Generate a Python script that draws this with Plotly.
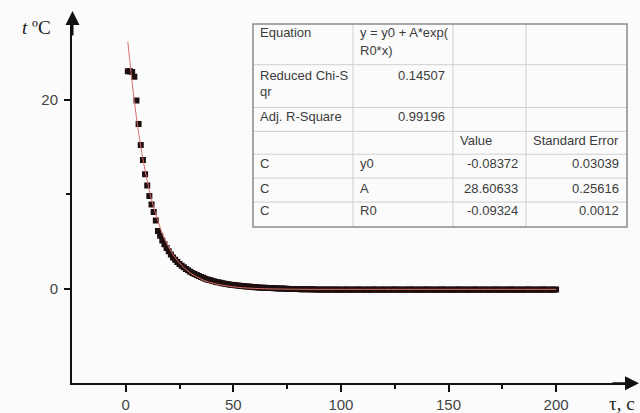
import plotly.graph_objects as go

# ---------------- data ----------------
t_step = 1.0  # sampling interval of the measured points (s)
temp = [
    23.0, 23.0, 22.9, 22.4, 19.9, 17.4, 15.2, 13.6, 12.1, 10.9,
    9.8, 8.9, 8.1, 7.2, 6.1, 5.6, 5.1, 4.7, 4.3, 3.95,
    3.6, 3.3, 3.05, 2.8, 2.6, 2.42, 2.25, 2.08, 1.93, 1.79,
    1.66, 1.54, 1.43, 1.32, 1.23, 1.14, 1.05, 0.97, 0.90, 0.83,
    0.77, 0.71, 0.66, 0.61, 0.56, 0.52, 0.48, 0.44, 0.41, 0.38,
    0.35, 0.32, 0.29, 0.27, 0.25, 0.23, 0.21, 0.19, 0.17, 0.15,
    0.13, 0.12, 0.10, 0.09, 0.08, 0.07, 0.06, 0.05, 0.04, 0.03,
    0.02, 0.01, 0.00, -0.01, -0.02, -0.03, -0.03, -0.04, -0.05, -0.05,
    -0.06, -0.06, -0.07, -0.07, -0.08, -0.09, -0.08, -0.10, -0.09, -0.11,
    -0.10, -0.09, -0.11, -0.10, -0.12, -0.10, -0.09, -0.11, -0.10, -0.12,
    -0.11, -0.10, -0.09, -0.11, -0.12, -0.10, -0.11, -0.09, -0.10, -0.12,
    -0.11, -0.10, -0.12, -0.11, -0.09, -0.10, -0.11, -0.12, -0.10, -0.11,
    -0.10, -0.12, -0.11, -0.10, -0.09, -0.11, -0.10, -0.12, -0.11, -0.10,
    -0.11, -0.09, -0.10, -0.12, -0.11, -0.10, -0.11, -0.12, -0.10, -0.09,
    -0.11, -0.10, -0.12, -0.11, -0.10, -0.11, -0.09, -0.10, -0.12, -0.11,
    -0.10, -0.11, -0.12, -0.10, -0.09, -0.11, -0.10, -0.11, -0.12, -0.10,
    -0.11, -0.10, -0.09, -0.11, -0.12, -0.10, -0.11, -0.10, -0.12, -0.11,
    -0.10, -0.09, -0.11, -0.10, -0.12, -0.11, -0.10, -0.11, -0.09, -0.10,
    -0.12, -0.11, -0.10, -0.11, -0.12, -0.10, -0.09, -0.11, -0.10, -0.11,
    -0.12, -0.10, -0.11, -0.10, -0.09, -0.11, -0.12, -0.10, -0.11, -0.10,
]
time = [t_step * (i + 1) for i in range(len(temp))]

# fitted curve
fit_x = [1, 2, 3, 4, 5, 6, 8, 10, 12, 15, 18, 22, 26, 30, 35, 40, 50, 60, 80, 100, 150, 200]
fit_y = [26.1, 23.9, 21.8, 19.9, 18.1, 16.5, 13.7, 11.4, 9.4, 7.1, 5.3, 3.6,
         2.45, 1.66, 1.01, 0.60, 0.19, 0.02, -0.07, -0.08, -0.08, -0.08]

x_ticks = [0, 50, 100, 150, 200]
x_minor = [25, 75, 125, 175]
y_ticks = [0, 20]
y_minor = [10]

table_rows = [
    [["Equation"], ["y = y0 + A*exp(", "R0*x)"], [""], [""]],
    [["Reduced Chi-S", "qr"], ["0.14507"], [""], [""]],
    [["Adj. R-Square"], ["0.99196"], [""], [""]],
    [[""], [""], ["Value"], ["Standard Error"]],
    [["C"], ["y0"], ["-0.08372"], ["0.03039"]],
    [["C"], ["A"], ["28.60633"], ["0.25616"]],
    [["C"], ["R0"], ["-0.09324"], ["0.0012"]],
]
right_cells = {(1, 1), (2, 1), (4, 2), (5, 2), (6, 2), (4, 3), (5, 3), (6, 3)}

# ---------------- layout geometry (pixels) ----------------
W, H = 640, 413
L, R, T, B = 72, 632, 20, 385


def px(x):
    return x / W


def py(y):
    return 1 - y / H


fig = go.Figure()
fig.add_trace(go.Scatter(
    x=time, y=temp, mode="markers",
    marker=dict(symbol="square", size=6, color="#1e0e0f", line=dict(width=0)),
    showlegend=False, hoverinfo="skip"))
fig.add_trace(go.Scatter(
    x=fit_x, y=fit_y, mode="lines", line=dict(color="#d8706a", width=1, shape="spline"),
    showlegend=False, hoverinfo="skip"))

shapes = []
annotations = []

# axis arrowheads (annotation arrows)
annotations.append(dict(xref="paper", yref="paper", x=px(72.5), y=py(11), ax=0, ay=26,
                        text="", showarrow=True, arrowhead=2, arrowsize=1.4, arrowwidth=2,
                        arrowcolor="#111", standoff=0))
annotations.append(dict(xref="paper", yref="paper", x=px(639), y=py(385), ax=-28, ay=0,
                        text="", showarrow=True, arrowhead=2, arrowsize=1.4, arrowwidth=2,
                        arrowcolor="#111", standoff=0))

# table
col_x = [253, 353, 453, 526, 627]
row_y = [24, 65, 108, 132, 155, 179, 203, 228]
line_centres = [[33, 51], [76, 92], [117], [141], [164], [189], [212]]
for yy in row_y[1:-1]:
    shapes.append(dict(type="line", xref="paper", yref="paper",
                       x0=px(col_x[0]), x1=px(col_x[-1]), y0=py(yy), y1=py(yy),
                       line=dict(color="#cfcfcf", width=1)))
for xx in col_x[1:-1]:
    shapes.append(dict(type="line", xref="paper", yref="paper",
                       x0=px(xx), x1=px(xx), y0=py(row_y[0]), y1=py(row_y[-1]),
                       line=dict(color="#cfcfcf", width=1)))
shapes.append(dict(type="rect", xref="paper", yref="paper",
                   x0=px(col_x[0]), x1=px(col_x[-1]), y0=py(row_y[0]), y1=py(row_y[-1]),
                   line=dict(color="#8c8c8c", width=1.5), layer="above"))

for r, row in enumerate(table_rows):
    for c, lines in enumerate(row):
        for k, txt in enumerate(lines):
            if not txt:
                continue
            right = (r, c) in right_cells
            xx = col_x[c + 1] - 6 if right else col_x[c] + 5
            annotations.append(dict(
                xref="paper", yref="paper", x=px(xx), y=py(line_centres[r][k]),
                xanchor="right" if right else "left", yanchor="middle",
                text=txt, showarrow=False,
                font=dict(family="Liberation Sans, Arial", size=13, color="#3c3c3c")))

# axis labels
annotations.append(dict(xref="paper", yref="paper", x=px(36), y=py(28),
                        text="<i>t</i> ºC", showarrow=False, xanchor="center", yanchor="middle",
                        font=dict(family="Liberation Serif, Times New Roman", size=19, color="#222")))
annotations.append(dict(xref="paper", yref="paper", x=px(607), y=py(405),
                        text="τ, c", showarrow=False, xanchor="left", yanchor="middle",
                        font=dict(family="Liberation Serif, Times New Roman", size=19, color="#222")))

x_scale = 2.152
y_scale = 9.5
fig.update_layout(
    width=W, height=H,
    margin=dict(l=0, r=0, t=0, b=0, pad=0),
    paper_bgcolor="#fbfbfb", plot_bgcolor="rgba(0,0,0,0)",
    shapes=shapes, annotations=annotations,
    xaxis=dict(domain=[L / W, R / W], anchor="y",
               range=[(L - 125.7) / x_scale, (R - 125.7) / x_scale],
               showgrid=False, zeroline=False, showline=True, linecolor="#111", linewidth=2,
               tickmode="array", tickvals=x_ticks, ticks="outside", ticklen=7, tickwidth=1.5,
               tickcolor="#111",
               minor=dict(tickvals=x_minor, ticks="outside", ticklen=4, tickwidth=1.5, tickcolor="#111"),
               tickfont=dict(family="Liberation Sans, Arial", size=15, color="#444")),
    yaxis=dict(domain=[1 - B / H, 1 - T / H], anchor="x",
               range=[(290 - B) / y_scale, (290 - T) / y_scale],
               showgrid=False, zeroline=False, showline=True, linecolor="#111", linewidth=2,
               tickmode="array", tickvals=y_ticks, ticks="outside", ticklen=6, tickwidth=1.5,
               tickcolor="#111", ticklabelstandoff=3,
               minor=dict(tickvals=y_minor, ticks="outside", ticklen=4, tickwidth=1.5, tickcolor="#111"),
               tickfont=dict(family="Liberation Sans, Arial", size=15, color="#444")),
)

fig.write_html("out.html")
